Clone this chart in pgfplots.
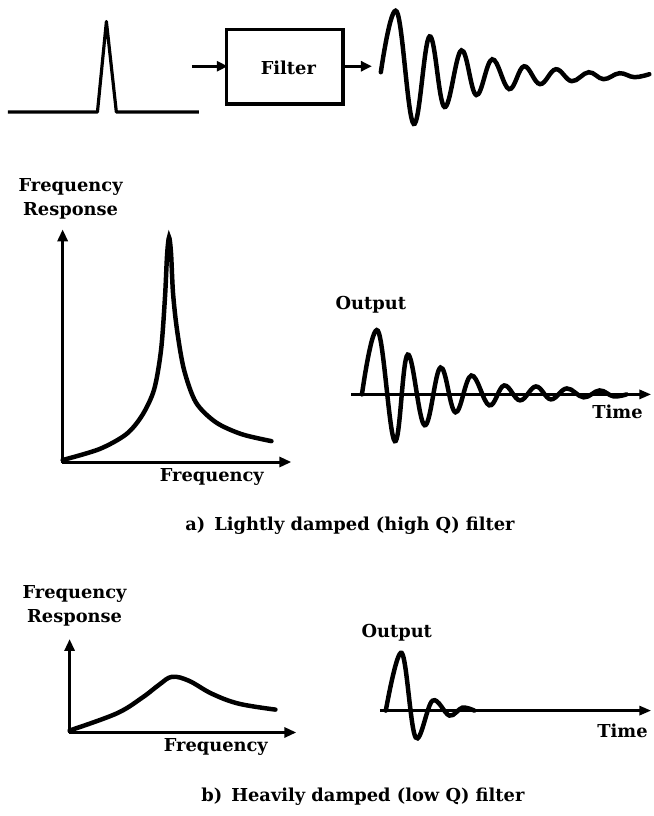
\documentclass[border=0pt]{standalone}
\usepackage{pgfplots}
\pgfplotsset{compat=1.18}
\usepackage{fontspec}
\setmainfont{DejaVu Serif}
\usetikzlibrary{arrows.meta}
\begin{document}
\begin{tikzpicture}[font=\bfseries\fontsize{18}{24}\selectfont]
\begin{axis}[scale only axis, width=657bp, height=816bp,
  xmin=0, xmax=657, ymin=0, ymax=816, y dir=reverse,
  hide axis, clip=false]
\path (axis cs:0,0) rectangle (axis cs:657,816);
% --- top row: impulse -> filter -> ringing ---
\addplot[line width=3.2bp, line join=round] coordinates {
(8,108) (98,108) (107,17) (117,108) (200,108)};
\draw[line width=3bp, -{Triangle[length=11bp,width=10bp]}] (axis cs:193,62) -- (axis cs:229,62);
\draw[line width=3.5bp] (axis cs:228,25) rectangle (axis cs:345,100);
\node at (axis cs:290,64) {Filter};
\draw[line width=3bp, -{Triangle[length=11bp,width=10bp]}] (axis cs:345,62) -- (axis cs:374,62);
\addplot[smooth, tension=0.65, line width=4.5bp, line cap=round] coordinates {
(383,68) (399,7) (416,120) (432,32) (447,103) (464,46) (479,91) (495,55)
(512,85) (527,62) (543,80) (559,65) (575,77) (592,68) (607,75) (623,69)
(638,73) (653,70)};
% --- a) frequency response ---
\draw[line width=3bp, -{Triangle[length=12bp,width=10bp]}] (axis cs:63,461) -- (axis cs:63,226);
\draw[line width=3bp, -{Triangle[length=12bp,width=10bp]}] (axis cs:62,460) -- (axis cs:293,460);
\node[align=center] at (axis cs:71,195) {Frequency\\Response};
\node at (axis cs:213,475) {Frequency};
\addplot[smooth, tension=0.5, line width=4.5bp, line cap=round] coordinates {
(63,458) (100,447) (127,432) (143,413) (155,387) (162,347) (166,293) (168,252)
(170,234) (172,250) (174,290) (178,327) (185,367) (197,400) (217,420) (243,432) (273,439)};
% --- a) output ---
\node at (axis cs:373,302) {Output};
\draw[line width=3bp, -{Triangle[length=12bp,width=9bp]}] (axis cs:353,392) -- (axis cs:655,392);
\node at (axis cs:621,410) {Time};
\addplot[smooth, tension=0.65, line width=4.5bp, line cap=round] coordinates {
(364,392) (380,328) (397,439) (410,352) (427,423) (443,365) (458,410) (474,373)
(492,403) (507,383) (523,398) (539,384) (554,397) (570,386) (587,395) (603,388)
(617,394) (630,392)};
\node at (axis cs:352,524) {a)\enspace Lightly damped (high Q) filter};
% --- b) frequency response ---
\draw[line width=3bp, -{Triangle[length=12bp,width=10bp]}] (axis cs:70,733) -- (axis cs:70,638);
\draw[line width=3bp, -{Triangle[length=12bp,width=10bp]}] (axis cs:69,732) -- (axis cs:298,732);
\node[align=center] at (axis cs:75,605) {Frequency\\Response};
\node at (axis cs:217,747) {Frequency};
\addplot[smooth, tension=0.6, line width=4.5bp, line cap=round] coordinates {
(70,730) (117,713) (143,697) (160,684) (173,676) (190,680) (213,693) (240,703) (277,709)};
% --- b) output ---
\node at (axis cs:399,632) {Output};
\draw[line width=3bp, -{Triangle[length=12bp,width=9bp]}] (axis cs:382,710) -- (axis cs:655,710);
\node at (axis cs:626,730) {Time};
\addplot[smooth, tension=0.6, line width=4.5bp, line cap=round] coordinates {
(388,710) (404,652) (418,737) (435,700) (452,715) (465,707) (477,710)};
\node at (axis cs:365,797) {b)\enspace Heavily damped (low Q) filter};
\end{axis}
\end{tikzpicture}
\end{document}
